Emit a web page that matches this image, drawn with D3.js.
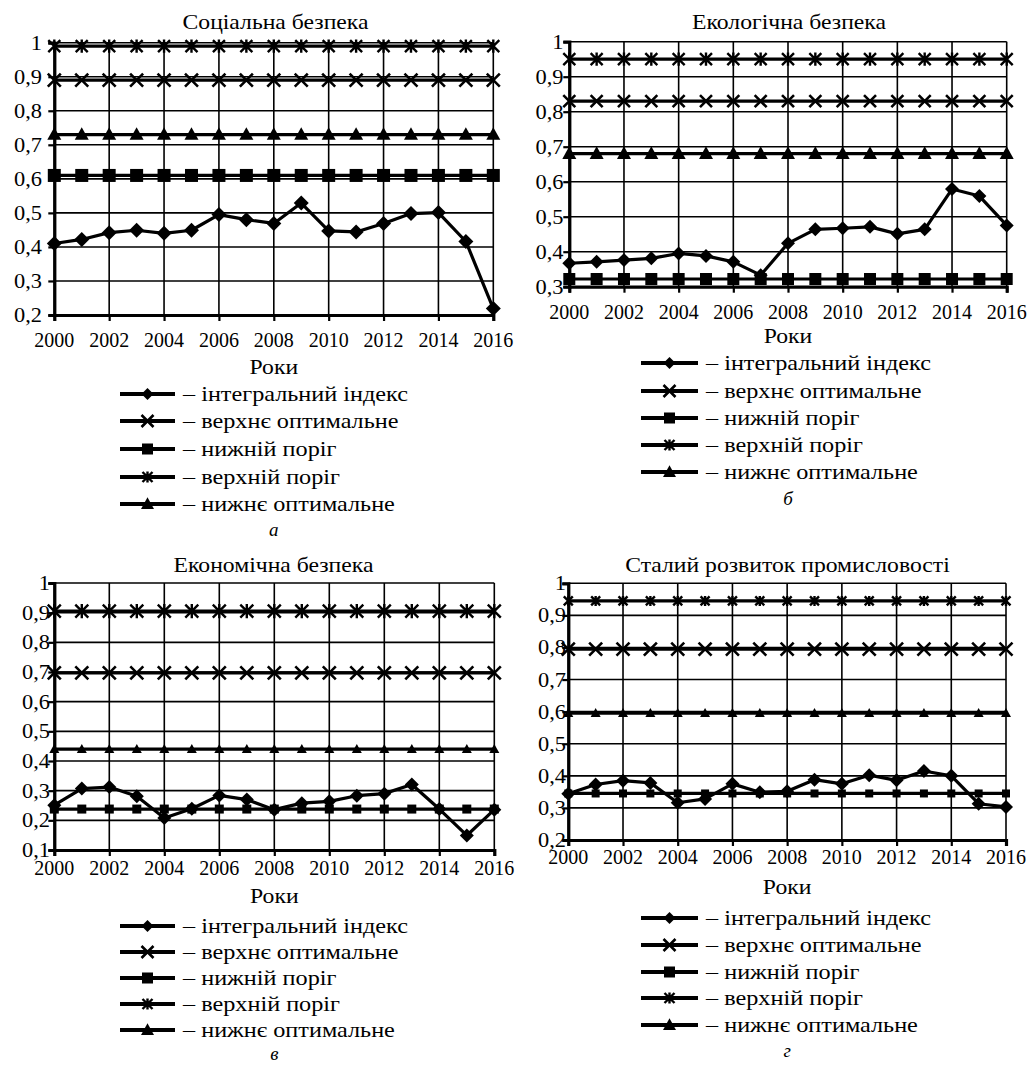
<!DOCTYPE html>
<html><head><meta charset="utf-8">
<script src="https://cdn.jsdelivr.net/npm/d3@7"></script>
<style>
body{margin:0;background:#fff}
svg{display:block}
text{font-family:"Liberation Serif","Times New Roman",Tinos,"Nimbus Roman","FreeSerif","DejaVu Serif",serif;fill:#000}
</style>
</head><body>
<svg id="c" width="1034" height="1067"></svg>
<script>
// ---------- DATA ----------
const years = [2000,2001,2002,2003,2004,2005,2006,2007,2008,2009,2010,2011,2012,2013,2014,2015,2016];
const yearTicks = [2000,2002,2004,2006,2008,2010,2012,2014,2016];
const seriesNames = ["інтегральний індекс","верхнє оптимальне","нижній поріг","верхній поріг","нижнє оптимальне"];
const titles = ["Соціальна безпека","Екологічна безпека","Економічна безпека","Сталий розвиток промисловості"];
const letters = ["а","б","в","г"];
const axisTitle = "Роки";

const ticksA = [0.2,0.3,0.4,0.5,0.6,0.7,0.8,0.9,1];
const ticksB = [0.3,0.4,0.5,0.6,0.7,0.8,0.9,1];
const ticksC = [0.1,0.2,0.3,0.4,0.5,0.6,0.7,0.8,0.9,1];
const ticksD = [0.2,0.3,0.4,0.5,0.6,0.7,0.8,0.9,1];

// Panel а — Соціальна безпека
const socIntegral = [0.410,0.422,0.442,0.449,0.440,0.449,0.495,0.480,0.469,0.529,0.447,0.444,0.469,0.498,0.501,0.416,0.219];
const socUpperOpt = [0.89,0.89,0.89,0.89,0.89,0.89,0.89,0.89,0.89,0.89,0.89,0.89,0.89,0.89,0.89,0.89,0.89];
const socLowerThr = [0.61,0.61,0.61,0.61,0.61,0.61,0.61,0.61,0.61,0.61,0.61,0.61,0.61,0.61,0.61,0.61,0.61];
const socUpperThr = [0.99,0.99,0.99,0.99,0.99,0.99,0.99,0.99,0.99,0.99,0.99,0.99,0.99,0.99,0.99,0.99,0.99];
const socLowerOpt = [0.73,0.73,0.73,0.73,0.73,0.73,0.73,0.73,0.73,0.73,0.73,0.73,0.73,0.73,0.73,0.73,0.73];

// Panel б — Екологічна безпека
const ecoIntegral = [0.367,0.371,0.376,0.381,0.395,0.388,0.371,0.333,0.424,0.464,0.467,0.471,0.451,0.464,0.579,0.559,0.475];
const ecoUpperOpt = [0.83,0.83,0.83,0.83,0.83,0.83,0.83,0.83,0.83,0.83,0.83,0.83,0.83,0.83,0.83,0.83,0.83];
const ecoLowerThr = [0.322,0.322,0.322,0.322,0.322,0.322,0.322,0.322,0.322,0.322,0.322,0.322,0.322,0.322,0.322,0.322,0.322];
const ecoUpperThr = [0.95,0.95,0.95,0.95,0.95,0.95,0.95,0.95,0.95,0.95,0.95,0.95,0.95,0.95,0.95,0.95,0.95];
const ecoLowerOpt = [0.68,0.68,0.68,0.68,0.68,0.68,0.68,0.68,0.68,0.68,0.68,0.68,0.68,0.68,0.68,0.68,0.68];

// Panel в — Економічна безпека
const ecnIntegral = [0.251,0.307,0.312,0.281,0.208,0.239,0.284,0.270,0.236,0.258,0.264,0.283,0.290,0.321,0.238,0.149,0.236];
const ecnUpperOpt = [0.697,0.697,0.697,0.697,0.697,0.697,0.697,0.697,0.697,0.697,0.697,0.697,0.697,0.697,0.697,0.697,0.697];
const ecnLowerThr = [0.238,0.238,0.238,0.238,0.238,0.238,0.238,0.238,0.238,0.238,0.238,0.238,0.238,0.238,0.238,0.238,0.238];
const ecnUpperThr = [0.905,0.905,0.905,0.905,0.905,0.905,0.905,0.905,0.905,0.905,0.905,0.905,0.905,0.905,0.905,0.905,0.905];
const ecnLowerOpt = [0.44,0.44,0.44,0.44,0.44,0.44,0.44,0.44,0.44,0.44,0.44,0.44,0.44,0.44,0.44,0.44,0.44];

// Panel г — Сталий розвиток промисловості
const indIntegral = [0.344,0.373,0.385,0.378,0.316,0.328,0.375,0.349,0.352,0.388,0.375,0.402,0.386,0.415,0.400,0.313,0.303];
const indUpperOpt = [0.795,0.795,0.795,0.795,0.795,0.795,0.795,0.795,0.795,0.795,0.795,0.795,0.795,0.795,0.795,0.795,0.795];
const indLowerThr = [0.345,0.345,0.345,0.345,0.345,0.345,0.345,0.345,0.345,0.345,0.345,0.345,0.345,0.345,0.345,0.345,0.345];
const indUpperThr = [0.945,0.945,0.945,0.945,0.945,0.945,0.945,0.945,0.945,0.945,0.945,0.945,0.945,0.945,0.945,0.945,0.945];
const indLowerOpt = [0.595,0.595,0.595,0.595,0.595,0.595,0.595,0.595,0.595,0.595,0.595,0.595,0.595,0.595,0.595,0.595,0.595];

// ---------- LAYOUT ----------
const FS = 21;
const BL = 7; // baseline offset from visual centre
const panels = [
  {data:[socIntegral,socUpperOpt,socLowerThr,socUpperThr,socLowerOpt], ticks:ticksA,
   x0:54.3, x1:493.3, yT:42.7, yB:315, labEnd:42, titleX:275.5, titleY:22, yearsY:340, rokyY:367,
   leg:[120,175,183], rows:[394,421,449,477,504], letterY:529, ms:[7.5,6.5,6.5,6,7]},
  {data:[ecoIntegral,ecoUpperOpt,ecoLowerThr,ecoUpperThr,ecoLowerOpt], ticks:ticksB,
   x0:569.3, x1:1006.7, yT:41.7, yB:286.7, labEnd:563.5, titleX:789, titleY:22, yearsY:312, rokyY:336,
   leg:[641,698,706], rows:[363,391,418,445,472], letterY:498, ms:[7,6,6,6,7]},
  {data:[ecnIntegral,ecnUpperOpt,ecnLowerThr,ecnUpperThr,ecnLowerOpt], ticks:ticksC,
   x0:54.3, x1:494.3, yT:583, yB:850, labEnd:50, titleX:273.5, titleY:565, yearsY:868, rokyY:896,
   leg:[120,175,183], rows:[926,952,978,1004,1030], letterY:1053, ms:[7,6.5,4.5,6.5,5]},
  {data:[indIntegral,indUpperOpt,indLowerThr,indUpperThr,indLowerOpt], ticks:ticksD,
   x0:568.3, x1:1006, yT:583.3, yB:840, labEnd:566, titleX:787.5, titleY:565, yearsY:857, rokyY:887,
   leg:[641,698,706], rows:[918,945,972,998,1025], letterY:1050, ms:[7,6.5,4,4.5,5]}
];

const svg = d3.select("#c");
const fmt = v => String(+v.toFixed(1)).replace(".", ",");

function marker(g, type, x, y, s){
  if(type===0){
    g.append("path").attr("d",`M${x},${y-s}L${x+s},${y}L${x},${y+s}L${x-s},${y}Z`).attr("fill","#000");
  } else if(type===1){
    g.append("path").attr("d",`M${x-s},${y-s}L${x+s},${y+s}M${x-s},${y+s}L${x+s},${y-s}`)
      .attr("stroke","#000").attr("stroke-width",2.6).attr("fill","none");
  } else if(type===2){
    g.append("rect").attr("x",x-s).attr("y",y-s).attr("width",2*s).attr("height",2*s).attr("fill","#000");
  } else if(type===3){
    g.append("path").attr("d",`M${x-s},${y-s}L${x+s},${y+s}M${x-s},${y+s}L${x+s},${y-s}M${x},${y-s*1.1}L${x},${y+s*1.1}`)
      .attr("stroke","#000").attr("stroke-width",2.4).attr("fill","none");
  } else {
    g.append("path").attr("d",`M${x},${y-s*1.05}L${x+s},${y+s*0.75}L${x-s},${y+s*0.75}Z`).attr("fill","#000");
  }
}

function txt(g, cls, x, y, s, anchor){
  return g.append("text").attr("class",cls).attr("x",x).attr("y",y+BL)
    .attr("text-anchor",anchor||"start").attr("font-size",FS).text(s);
}

panels.forEach((p,i)=>{
  const g = svg.append("g");
  const x = d3.scaleLinear().domain([years[0], years[years.length-1]]).range([p.x0,p.x1]);
  const y = d3.scaleLinear().domain([p.ticks[0], p.ticks[p.ticks.length-1]]).range([p.yB,p.yT]);

  g.selectAll(".hg").data(p.ticks).enter().append("line")
    .attr("x1",p.x0).attr("x2",p.x1).attr("y1",d=>y(d)).attr("y2",d=>y(d))
    .attr("stroke","#000").attr("stroke-width",1.6);
  g.selectAll(".vg").data(yearTicks).enter().append("line")
    .attr("x1",d=>x(d)).attr("x2",d=>x(d)).attr("y1",p.yT).attr("y2",p.yB)
    .attr("stroke","#000").attr("stroke-width",1.6);

  const ya = g.append("g").attr("transform",`translate(${p.x0},0)`)
    .call(d3.axisLeft(y).tickValues(p.ticks).tickSize(6).tickFormat(""));
  ya.selectAll("path,line").attr("stroke","#000").attr("stroke-width",2.2);
  ya.select("path").attr("stroke-width",3.2);
  const xa = g.append("g").attr("transform",`translate(0,${p.yB})`)
    .call(d3.axisBottom(x).tickValues(yearTicks).tickSize(6).tickFormat(""));
  xa.selectAll("path,line").attr("stroke","#000").attr("stroke-width",2.2);
  xa.select("path").attr("stroke-width",3.2);

  p.ticks.forEach(t=>txt(g,"ytk",p.labEnd,y(t),fmt(t),"end"));
  yearTicks.forEach(t=>txt(g,"yr",x(t),p.yearsY,t,"middle"));

  const line = d3.line().x((d,k)=>x(years[k])).y(d=>y(d));
  p.data.forEach((vals,si)=>{
    g.append("path").datum(vals).attr("d",line).attr("fill","none")
      .attr("stroke","#000").attr("stroke-width",3.2).attr("stroke-linejoin","round");
    vals.forEach((v,k)=>marker(g, si, x(years[k]), y(v), p.ms[si]));
  });

  const tt = txt(g,"ttl",p.titleX,p.titleY,titles[i],"middle");
  if(i===0) tt.attr("id","calTitle");
  txt(g,"ttl",(p.x0+p.x1)/2,p.rokyY,axisTitle,"middle");

  seriesNames.forEach((nm,si)=>{
    const ry = p.rows[si];
    g.append("line").attr("x1",p.leg[0]).attr("x2",p.leg[1]).attr("y1",ry).attr("y2",ry)
      .attr("stroke","#000").attr("stroke-width",4);
    marker(g, si, (p.leg[0]+p.leg[1])/2, ry, [6,6,5.5,5,6.5][si]);
    const lt = txt(g,"lg",p.leg[2],ry,"– "+nm);
    if(i===0 && si===0) lt.attr("id","calLeg");
  });
  txt(g,"ltr",(p.x0+p.x1)/2,p.letterY,letters[i],"middle")
    .attr("font-style","italic").attr("font-size",19);
});

// horizontal calibration of text widths against the reference
function calib(cls, sampleNode, target){
  const w0 = sampleNode.getComputedTextLength();
  const f = w0 > 0 ? target / w0 : 1;
  d3.selectAll("text."+cls).each(function(){
    const w = this.getComputedTextLength();
    if (w > 0) d3.select(this).attr("textLength", w*f).attr("lengthAdjust","spacingAndGlyphs");
  });
}
calib("ttl", document.getElementById("calTitle"), 186);
calib("lg", document.getElementById("calLeg"), 225);
calib("yr", document.querySelector("text.yr"), 40);
calib("ytk", document.querySelectorAll("text.ytk")[1], 28);
</script>
</body></html>
